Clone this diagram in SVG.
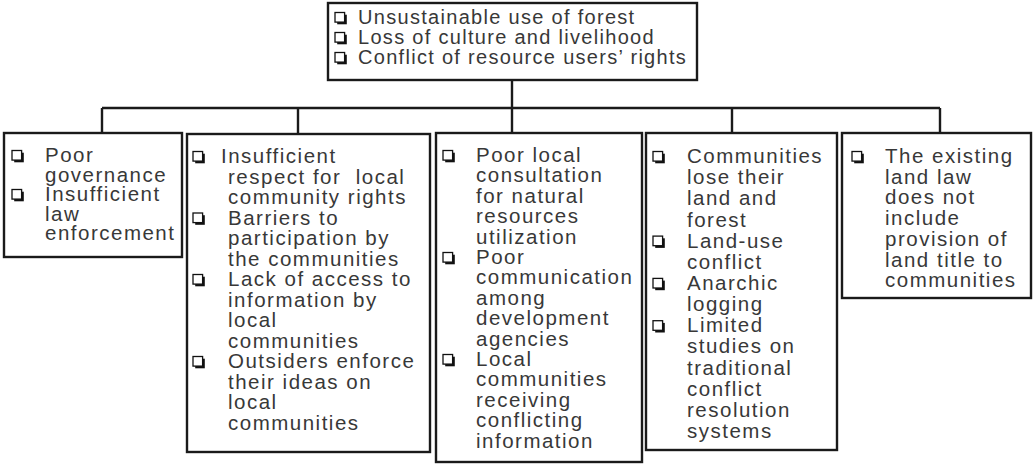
<svg xmlns="http://www.w3.org/2000/svg" xmlns:xlink="http://www.w3.org/1999/xlink" width="1033" height="470" viewBox="0 0 1033 470">
<style>
.box{fill:#fff;stroke:#1a1a1a;stroke-width:2.4}
.conn{fill:none;stroke:#1a1a1a;stroke-width:2.4}
.t{font-family:"Liberation Sans",Arial,sans-serif;font-size:20.5px;letter-spacing:1.5px;fill:#383838}
.tt{font-size:20px;letter-spacing:1.3px}
</style>
<defs>
<g id="b"><rect x="2.2" y="2.2" width="9.6" height="9.6" fill="#111"/><rect x="0" y="0" width="9.6" height="9.6" fill="#fff" stroke="#111" stroke-width="1.3"/></g>
</defs>
<rect width="1033" height="470" fill="#fff"/>
<g id="connectors">
<path class="conn" d="M512 80V133M102 108H940M102 108V133M298 108V133M732 108V133M940 108V133"/>
</g>
<g id="top">
<rect class="box" x="328" y="3" width="369" height="77"/>
<use xlink:href="#b" x="335" y="12.5"/><use xlink:href="#b" x="335" y="32.5"/><use xlink:href="#b" x="335" y="52.5"/>
<text class="t tt"><tspan x="358" y="24">Unsustainable use of forest</tspan><tspan x="358" y="44">Loss of culture and livelihood</tspan><tspan x="358" y="64">Conflict of resource users’ rights</tspan></text>
</g>
<g id="n1">
<rect class="box" x="4" y="133" width="178" height="124"/>
<use xlink:href="#b" x="12" y="150.5"/><use xlink:href="#b" x="12" y="189.5"/>
<text class="t"><tspan x="45" y="162">Poor</tspan><tspan x="45" y="181.5">governance</tspan><tspan x="45" y="201">Insufficient</tspan><tspan x="45" y="220.5">law</tspan><tspan x="45" y="240">enforcement</tspan></text>
</g>
<g id="n2">
<rect class="box" x="187" y="134" width="243" height="318"/>
<use xlink:href="#b" x="193" y="151.5"/><use xlink:href="#b" x="193" y="213"/><use xlink:href="#b" x="193" y="274.5"/><use xlink:href="#b" x="193" y="356.5"/>
<text class="t" xml:space="preserve"><tspan x="221" y="163">Insufficient</tspan><tspan x="228" y="183.5">respect for  local</tspan><tspan x="228" y="204">community rights</tspan><tspan x="228" y="224.5">Barriers to</tspan><tspan x="228" y="245">participation by</tspan><tspan x="228" y="265.5">the communities</tspan><tspan x="228" y="286">Lack of access to</tspan><tspan x="228" y="306.5">information by</tspan><tspan x="228" y="327">local</tspan><tspan x="228" y="347.5">communities</tspan><tspan x="228" y="368">Outsiders enforce</tspan><tspan x="228" y="388.5">their ideas on</tspan><tspan x="228" y="409">local</tspan><tspan x="228" y="429.5">communities</tspan></text>
</g>
<g id="n3">
<rect class="box" x="436" y="133" width="206" height="329"/>
<use xlink:href="#b" x="443" y="150.5"/><use xlink:href="#b" x="443" y="252.5"/><use xlink:href="#b" x="443" y="354.5"/>
<text class="t"><tspan x="476" y="162">Poor local</tspan><tspan x="476" y="182.4">consultation</tspan><tspan x="476" y="202.8">for natural</tspan><tspan x="476" y="223.2">resources</tspan><tspan x="476" y="243.6">utilization</tspan><tspan x="476" y="264">Poor</tspan><tspan x="476" y="284.4">communication</tspan><tspan x="476" y="304.8">among</tspan><tspan x="476" y="325.2">development</tspan><tspan x="476" y="345.6">agencies</tspan><tspan x="476" y="366">Local</tspan><tspan x="476" y="386.4">communities</tspan><tspan x="476" y="406.8">receiving</tspan><tspan x="476" y="427.2">conflicting</tspan><tspan x="476" y="447.6">information</tspan></text>
</g>
<g id="n4">
<rect class="box" x="646" y="133" width="191" height="317"/>
<use xlink:href="#b" x="653" y="151.5"/><use xlink:href="#b" x="653" y="236.1"/><use xlink:href="#b" x="653" y="278.4"/><use xlink:href="#b" x="653" y="320.7"/>
<text class="t"><tspan x="687" y="163">Communities</tspan><tspan x="687" y="184.2">lose their</tspan><tspan x="687" y="205.3">land and</tspan><tspan x="687" y="226.5">forest</tspan><tspan x="687" y="247.6">Land-use</tspan><tspan x="687" y="268.8">conflict</tspan><tspan x="687" y="289.9">Anarchic</tspan><tspan x="687" y="311.1">logging</tspan><tspan x="687" y="332.2">Limited</tspan><tspan x="687" y="353.4">studies on</tspan><tspan x="687" y="374.5">traditional</tspan><tspan x="687" y="395.7">conflict</tspan><tspan x="687" y="416.8">resolution</tspan><tspan x="687" y="438">systems</tspan></text>
</g>
<g id="n5">
<rect class="box" x="842" y="133" width="189" height="165"/>
<use xlink:href="#b" x="852" y="151.5"/>
<text class="t"><tspan x="885" y="163">The existing</tspan><tspan x="885" y="183.7">land law</tspan><tspan x="885" y="204.4">does not</tspan><tspan x="885" y="225.1">include</tspan><tspan x="885" y="245.8">provision of</tspan><tspan x="885" y="266.5">land title to</tspan><tspan x="885" y="287.2">communities</tspan></text>
</g>
</svg>
